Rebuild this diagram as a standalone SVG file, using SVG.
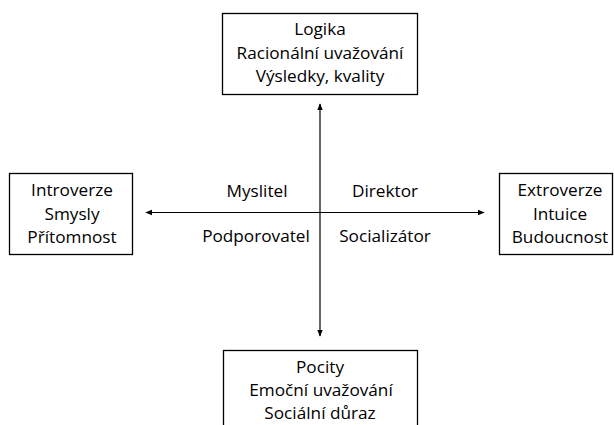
<svg xmlns="http://www.w3.org/2000/svg" width="614" height="425" viewBox="0 0 614 425">
<style>
.box{fill:#fff;stroke:#000;stroke-width:1.3}
.t{font-family:"Open Sans",Lato,"Liberation Sans",sans-serif;font-size:17.2px;fill:#000;text-anchor:middle}
.c{stroke:#000;stroke-width:1.2;fill:none}
</style>
<defs>
<marker id="ah" viewBox="0 0 10 10" refX="9" refY="5" markerWidth="7" markerHeight="7" markerUnits="userSpaceOnUse" orient="auto-start-reverse">
<path d="M0,1 L10,5 L0,9 z" fill="#000"/>
</marker>
</defs>
<rect width="614" height="425" fill="#fff"/>
<g id="connectors">
<line class="c" x1="320" y1="104" x2="320" y2="336" marker-start="url(#ah)" marker-end="url(#ah)"/>
<line class="c" x1="146" y1="212.5" x2="484" y2="212.5" marker-start="url(#ah)" marker-end="url(#ah)"/>
</g>
<g id="top">
<rect class="box" x="222.5" y="13.5" width="195" height="81"/>
<text class="t" x="320" y="35">Logika</text>
<text class="t" x="320" y="58.5">Racionální uvažování</text>
<text class="t" x="320" y="82">Výsledky, kvality</text>
</g>
<g id="left">
<rect class="box" x="9.5" y="173.5" width="123" height="81"/>
<text class="t" x="72" y="196">Introverze</text>
<text class="t" x="72" y="219.5">Smysly</text>
<text class="t" x="72" y="243">Přítomnost</text>
</g>
<g id="right">
<rect class="box" x="499.5" y="173.5" width="113" height="81"/>
<text class="t" x="560" y="196">Extroverze</text>
<text class="t" x="560" y="219.5">Intuice</text>
<text class="t" x="560" y="243">Budoucnost</text>
</g>
<g id="bottom">
<rect class="box" x="223.5" y="350.5" width="194" height="90"/>
<text class="t" x="320" y="373">Pocity</text>
<text class="t" x="321" y="396">Emoční uvažování</text>
<text class="t" x="320" y="419">Sociální důraz</text>
</g>
<g id="quadrants">
<text class="t" x="257" y="197">Myslitel</text>
<text class="t" x="385" y="197">Direktor</text>
<text class="t" x="256" y="242">Podporovatel</text>
<text class="t" x="385" y="242">Socializátor</text>
</g>
</svg>
